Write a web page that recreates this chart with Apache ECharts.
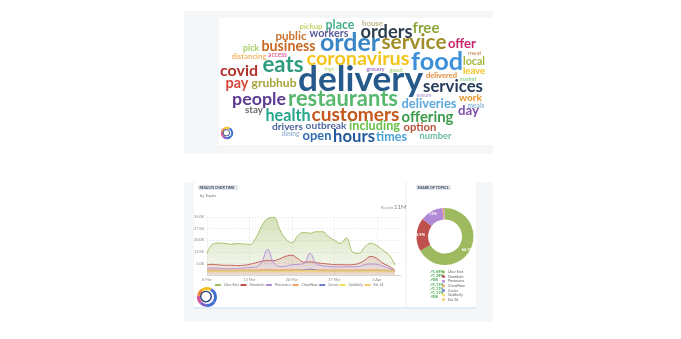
<!DOCTYPE html>
<html><head><meta charset="utf-8">
<script src="https://cdn.jsdelivr.net/npm/echarts@6/dist/echarts.min.js"></script>
<style>html,body{margin:0;padding:0;background:#fff}#c{width:681px;height:339px}</style>
</head><body><div id="c"></div>
<script>
// ---------- DATA ----------
// Word cloud
const words = ['pickup','place','house','orders','free','public','workers','order','service','offer',
  'pick','business','distancing','access','coronavirus','food','meal','local','covid','eats',
  'high','grocery','good','leave','delivered','market','delivery','pay','grubhub','services',
  'ensure','people','restaurants','deliveries','work','meals','day','stay','health','customers',
  'offering','drivers','outbreak','including','option','dining','open','hours','times','number'];

// Results over time (thousands of results per day)
const dates = ['6 Mar','7 Mar','8 Mar','9 Mar','10 Mar','11 Mar','12 Mar','13 Mar','14 Mar','15 Mar',
  '16 Mar','17 Mar','18 Mar','19 Mar','20 Mar','21 Mar','22 Mar','23 Mar','24 Mar','25 Mar','26 Mar',
  '27 Mar','28 Mar','29 Mar','30 Mar','31 Mar','1 Apr','2 Apr','3 Apr','4 Apr','5 Apr','6 Apr','7 Apr'];
const topics = ['Uber Eats','Doordash','Postmates','ChowNow','Caviar','Goldbelly','Eat 24'];
const uberEats  = [11.5,17.5,18.2,17.8,17.4,17.8,17.6,17.2,21.0,29.0,34.0,34.8,27.0,20.8,18.4,23.0,25.0,24.5,25.5,25.5,22.5,20.0,18.0,21.5,12.5,11.5,15.5,18.0,16.5,13.5,10.5,4.0,null];
const doordash  = [4.0,4.4,4.0,3.8,3.8,3.6,3.8,4.4,5.4,6.4,6.8,6.8,8.0,9.6,10.3,8.0,5.8,6.0,5.5,5.0,4.6,4.2,4.2,4.1,4.2,5.0,7.0,9.5,8.2,5.2,3.2,0.5,null];
const postmates = [1.8,2.0,1.8,1.6,1.6,1.8,2.0,2.4,2.6,6.0,14.0,5.5,3.0,3.2,4.2,4.4,5.0,11.5,5.0,3.5,3.0,2.8,2.8,2.8,2.8,3.0,4.2,4.6,4.4,3.2,1.8,0.3,null];
const chowNow   = [0.8,0.8,0.7,0.7,0.7,0.8,0.8,0.9,0.9,1.0,1.1,1.0,1.0,1.1,1.1,1.0,0.9,1.0,0.9,0.9,0.8,0.8,0.8,0.8,0.8,0.9,0.9,1.0,0.9,0.8,0.6,0.2,null];
const caviar    = [0.3,0.3,0.3,0.3,0.3,0.3,0.3,0.3,0.3,0.4,0.5,0.4,0.3,0.4,0.4,0.5,0.7,1.3,0.6,0.4,0.3,0.3,0.3,0.3,0.3,0.3,0.4,0.4,0.4,0.3,0.2,0.1,null];
const goldbelly = [0.1,0.1,0.1,0.1,0.1,0.1,0.1,0.1,0.1,0.1,0.1,0.1,0.1,0.1,0.1,0.1,0.1,0.1,0.1,0.1,0.1,0.1,0.1,0.1,0.1,0.1,0.1,0.1,0.1,0.1,0.1,0.0,null];
const eat24     = [0.2,0.2,0.2,0.2,0.2,0.2,0.2,0.2,0.2,0.2,0.2,0.2,0.2,0.2,0.2,0.2,0.2,0.2,0.2,0.2,0.2,0.2,0.2,0.2,0.2,0.2,0.2,0.2,0.2,0.2,0.1,0.0,null];
const yTicks = ['5.0K','12.5K','20.0K','27.5K','35.0K'];
const totalResults = '11M';

// Share of topics (%)
const shares  = [66.7,18.9,13.0,0.8,0.4,0.1,0.1];
const changes = ['1.69%','1.39%','0%','1.11%','1.11%','1.11%','0%'];

// ---------- LAYOUT / STYLE ----------
// word cloud placement: [centerX, centerY, width] in px
const cloudLayout = [
 [311,27,23],[340,25.5,29],[372.5,23.5,21],[386.5,33,52],[426,29,27],[291,37,31],[329,34,39],[350,44,60],[414,44,65],[462,45,28],
 [251,49,16],[288.5,47,54],[249,56.5,35],[277.5,55,19],[358,60,103],[437,63,52],[474.5,53.5,13],[474,62,22],[239,72,38],[283,66.5,41],
 [329.5,70,10],[375.5,70,18],[396,70,13],[474,71.5,22],[441.5,76.5,31],[468,80,17],[360.5,81.5,125],[237,84,23],[274,84,45],[453,88,60],
 [424,96,15],[259,100,54],[343,100.5,110],[429,105,55],[470.5,98.5,23],[476,106.5,17],[468.5,111.5,21],[254,110.5,18],[288,116.5,45],[355.5,116,88],
 [427.5,118,52],[287.5,127.5,31],[326,126.5,41],[374.5,127,51],[420,128,33],[290.5,134,18],[317,136.5,29],[354,137.5,42],[391.5,137.5,31],[435.5,136.5,32]];
const wordColors = ['#c3d66a','#4aaf8c','#bdb58c','#2c3e50','#8ca83a','#c8702e','#5b5a98','#3b86c6','#a18f2a','#c8246a',
 '#a6cf64','#c7661f','#f2b86a','#e86aa0','#f3c51c','#3d91d8','#d29a6c','#9fb838','#b3312b','#2e9c7c',
 '#c9da8c','#9c6dc4','#b4d47a','#f1c41c','#e08a38','#8fd09b','#255a8a','#d6473a','#a7a23a','#263c5c',
 '#b9a6d8','#5c3b90','#58b96e','#5ba7de','#e9942a','#8fb8d8','#7c4fa9','#6d6d6d','#23a58c','#c4581a',
 '#3d9b4b','#4b5f9b','#5069a1','#6ac04b','#b7543c','#a0b9da','#2f6eb1','#24599d','#4ba1d9','#6cb8a8'];
const topicColors = ['#9dbb5e','#c0504d','#b08ad6','#f0a46c','#6f7fcf','#f3e05a','#f2c96b'];

// ---------- BUILD ----------
const FONT = 'Lato';
const mctx = document.createElement('canvas').getContext('2d');
mctx.font = 'bold 100px ' + FONT;
const cloudData = words.map((w, i) => {
  const [cx, cy, tw] = cloudLayout[i];
  const fs = tw * 100 / mctx.measureText(w).width;
  return {
    value: [cx, cy],
    label: {show: true, position: 'inside', formatter: w, fontSize: fs, fontFamily: FONT, fontWeight: 'bold',
      color: wordColors[i], opacity: 1, offset: [0, -0.06 * fs]}
  };
});

function hexA(hex, a) {
  const n = parseInt(hex.slice(1), 16);
  return `rgba(${n >> 16},${(n >> 8) & 255},${n & 255},${a})`;
}
const seriesVals = [uberEats, doordash, postmates, chowNow, caviar, goldbelly, eat24];
const areaAlpha = [[0.62, 0.1], [0.25, 0.12], [0.3, 0.1], [0.15, 0.05], [0.15, 0.05], [0.15, 0.05], [0.15, 0.05]];
const lineSeries = topics.map((t, i) => ({
  name: t, type: 'line', xAxisIndex: 1, yAxisIndex: 1, data: seriesVals[i], smooth: 0.45,
  showSymbol: false, color: topicColors[i], z: 3,
  lineStyle: {width: 0.9, color: topicColors[i]},
  areaStyle: {origin: 'start', color: new echarts.graphic.LinearGradient(0, 0, 0, 1, [
    {offset: 0, color: hexA(topicColors[i], areaAlpha[i][0])},
    {offset: 1, color: hexA(topicColors[i], areaAlpha[i][1])}])}
}));

function logo(cx, cy, r, lw) {
  const cols = ['#3f6fd2', '#7b5cc8', '#d8569a', '#f0883a', '#f4c21c', '#3f6fd2'];
  const stops = [0.6, 1.6, 2.4, 3.3, 4.1, 5.2, 6.88];
  const ch = [];
  for (let k = 0; k < cols.length; k++) {
    ch.push({type: 'arc', shape: {cx, cy, r, startAngle: stops[k], endAngle: stops[k + 1]},
      style: {stroke: cols[k], lineWidth: lw, fill: null}, z: 20});
  }
  ch.push({type: 'circle', shape: {cx: cx - r * 0.12, cy: cy - r * 0.05, r: r * 0.62},
    style: {fill: '#fff', stroke: '#23397a', lineWidth: lw * 0.45}, z: 21});
  return ch;
}

const titleBox = (x, y, w, txt) => ([
  {type: 'rect', shape: {x, y, width: w, height: 5}, style: {fill: '#e4e7ec'}, z: 1},
  {type: 'text', x: x + 1.5, y: y + 2.6, style: {text: txt, font: 'bold 3.6px ' + FONT, fill: '#3b4658', textVerticalAlign: 'middle'}, z: 2}
]);

const graphics = [
  {type: 'rect', shape: {x: 184, y: 11, width: 309, height: 143}, style: {fill: '#f5f6f7'}, z: -10},
  {type: 'rect', shape: {x: 219, y: 18, width: 274, height: 127}, style: {fill: '#ffffff'}, z: -9},
  {type: 'rect', shape: {x: 184, y: 182, width: 309, height: 140}, style: {fill: '#f5f6f7'}, z: -10},
  {type: 'rect', shape: {x: 194, y: 182, width: 211, height: 126}, style: {fill: '#ffffff'}, z: -9},
  {type: 'rect', shape: {x: 407, y: 182, width: 69, height: 126}, style: {fill: '#ffffff'}, z: -9},
  {type: 'line', shape: {x1: 194, y1: 308, x2: 476, y2: 308}, style: {stroke: '#bfe0f2', lineWidth: 1}, z: -8},
  ...titleBox(198, 185, 40, 'RESULTS OVER TIME'),
  ...titleBox(416, 185, 35, 'SHARE OF TOPICS'),
  {type: 'text', x: 200, y: 195.5, style: {text: 'by Topics', font: '4px ' + FONT, fill: '#777', textVerticalAlign: 'middle'}},
  {type: 'text', x: 381, y: 207.5, style: {text: 'Results', font: '4px ' + FONT, fill: '#999', textVerticalAlign: 'middle'}},
  {type: 'text', x: 394, y: 207, style: {text: totalResults, font: '6px ' + FONT, fill: '#888', textVerticalAlign: 'middle'}},
  ...logo(227, 133, 5.2, 2),
  ...logo(207, 297, 8.5, 3)
];
changes.forEach((c, i) => {
  graphics.push({type: 'text', x: 430, y: 271.8 + i * 4.17,
    style: {text: '\u2197' + c, font: 'bold 3.8px ' + FONT, fill: '#3aa745', textVerticalAlign: 'middle'}});
});

const option = {
  animation: false,
  backgroundColor: '#fff',
  grid: [
    {left: 0, top: 0, width: 681, height: 339, show: false},
    {left: 207, top: 217, width: 194, height: 58}
  ],
  xAxis: [
    {gridIndex: 0, type: 'value', min: 0, max: 681, show: false},
    {gridIndex: 1, type: 'category', data: dates, boundaryGap: false,
      axisLine: {onZero: false, lineStyle: {color: '#cfcfcf', width: 0.8}}, axisTick: {show: false},
      axisLabel: {interval: 6, fontSize: 3.8, color: '#888', margin: 3, fontFamily: FONT},
      splitLine: {show: true, interval: 6, lineStyle: {type: [1.5, 1.5], color: '#dedede', width: 0.6}}}
  ],
  yAxis: [
    {gridIndex: 0, type: 'value', min: 0, max: 339, inverse: true, show: false},
    {gridIndex: 1, type: 'value', min: -2.5, max: 35, interval: 7.5,
      axisLabel: {fontSize: 3.8, color: '#888', margin: 3, fontFamily: FONT,
        formatter: (v) => { const k = Math.round((v - 5) / 7.5); return (k >= 0 && k < yTicks.length) ? yTicks[k] : ''; }},
      axisLine: {show: false}, axisTick: {show: false},
      splitLine: {lineStyle: {type: [1.5, 1.5], color: '#dedede', width: 0.6}}}
  ],
  legend: [
    {data: topics, left: 215, top: 283, padding: 0, itemWidth: 6, itemHeight: 2, itemGap: 1.5, icon: 'roundRect',
      textStyle: {fontSize: 3.5, color: '#777', fontFamily: FONT, padding: [0, 0, 0, -2]}},
    {data: topics, orient: 'vertical', left: 442, top: 270, padding: 0, itemWidth: 3, itemHeight: 3, itemGap: 0.6, icon: 'circle',
      textStyle: {fontSize: 3.6, lineHeight: 3.6, color: '#666', fontFamily: FONT, padding: [0, 0, 0, -2]}}
  ],
  series: [
    {type: 'scatter', xAxisIndex: 0, yAxisIndex: 0, data: cloudData, symbolSize: 1,
      itemStyle: {color: 'rgba(0,0,0,0)'}, silent: true, z: 5},
    ...lineSeries,
    {type: 'pie', center: [445, 236.5], radius: [17, 28.5], startAngle: 90, clockwise: true,
      data: topics.map((t, i) => ({name: t, value: shares[i], itemStyle: {color: topicColors[i]}})),
      label: {show: true, position: 'inside', color: '#fff', fontSize: 4, fontWeight: 'bold', fontFamily: FONT,
        formatter: (p) => p.value >= 5 ? p.value + '%' : ''},
      labelLine: {show: false}, itemStyle: {borderWidth: 0}, z: 3}
  ],
  graphic: graphics
};
const chart = echarts.init(document.getElementById('c'), null, {renderer: 'canvas'});
chart.setOption(option);
</script>
</body></html>
